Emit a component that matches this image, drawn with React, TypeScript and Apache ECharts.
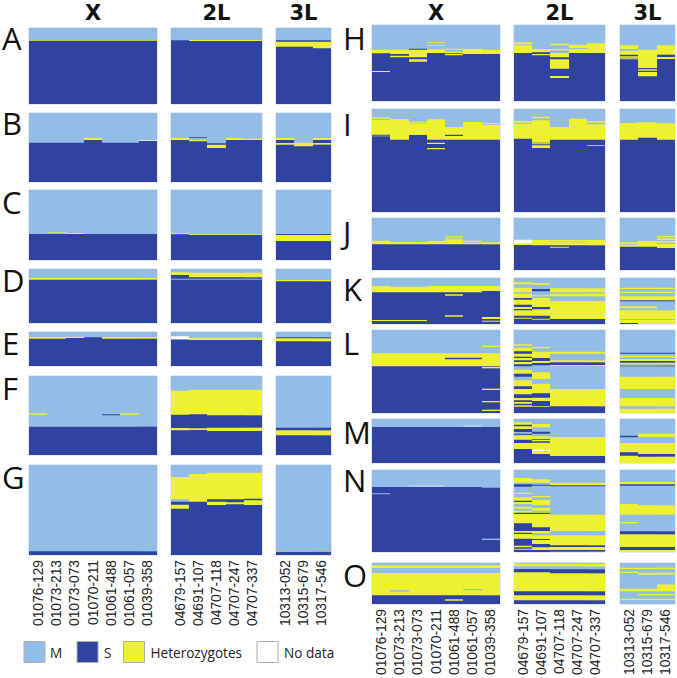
import React, { useEffect, useRef } from "react";
import * as echarts from "echarts";

// Sample ids per chromosome arm
const samplesX = ["01076-129", "01073-213", "01073-073", "01070-211", "01061-488", "01061-057", "01039-358"];
const samples2L = ["04679-157", "04691-107", "04707-118", "04707-247", "04707-337"];
const samples3L = ["10313-052", "10315-679", "10317-546"];
const armNames = ["X", "2L", "3L"];

// Genotype runs along the arm, one string per sample: state + end of the run (last run goes to the end)
const rowA = {
  X: ["M36 H38 S", "M36 H38 S", "M36 H38 S", "M36 H38 S", "M36 H38 S", "M36 H38 S", "M36 H38 S"],
  L2: ["M37 S", "M36 H39 S", "M36 H39 S", "M36 H39 S", "M36 H39 S"],
  L3: ["M37 S41 H56 S", "M37 S41 H56 S", "M37 S41 H61 S"],
};
const rowB = {
  X: ["M89 S", "M89 S", "M89 S", "M75 H81 S", "M89 S", "M89 S", "M82 W84 S"],
  L2: ["M75 H81 S", "M73 S75 M81 H85 S", "M91 S95 H105 S", "M75 H81 S", "M77 H81 S"],
  L3: ["M75 H81 S90 H95 S", "M89 H100 S", "M75 H81 S90 H95 S"],
};
const rowC = {
  X: ["M132 S", "M127 H129 M132 S", "M129 H132 S", "M132 S", "M132 S", "M132 S", "M132 S"],
  L2: ["M130 H132 M133 S", "M133 H135 S", "M133 H135 S", "M133 H135 S", "M133 H135 S"],
  L3: ["M132 S135 H153 S", "M132 S135 H153 S", "M132 S135 H153 S"],
};
const rowD = {
  X: ["M27 H32 S", "M27 H32 S", "M27 H32 S", "M27 H32 S", "M27 H32 S", "M27 H32 S", "M27 H32 S"],
  L2: ["M10 H18 S29 M32 S", "M11 H25 S29 M32 S", "M11 H25 S29 M32 S", "M11 H25 S29 M32 S", "M11 H25 S29 M32 S"],
  L3: ["M33 H37 S", "M33 H37 S", "M33 H37 S"],
};
const rowE = {
  X: ["M15 H20 S", "M15 H20 S", "M14 H18 S", "M16 S", "M15 H20 S", "M15 H20 S", "M15 H20 S"],
  L2: ["M13 W21 M23 S", "M17 H24 S", "M17 H24 S", "M17 H24 S", "M17 H24 S"],
  L3: ["M16 S19 H28 S", "M16 S19 H28 S", "M16 S19 H28 S"],
};
const rowF = {
  X: ["M112 H116 M152 S", "M152 S", "M152 S", "M152 S", "M115 S118 M152 S", "M112 H116 M152 S", "M152 S"],
  L2: ["M44 H116 S156 H163 S", "M41 H115 S157 H162 S", "M41 H118 S155 H165 S", "M41 H118 S155 H165 S", "M41 H118 S155 H165 S"],
  L3: ["M155 S163 H178 S", "M155 S163 H178 S", "M155 S163 H178 S"],
};
const rowG = {
  X: ["M259 S", "M259 S", "M259 S", "M259 S", "M259 S", "M259 S", "M259 S"],
  L2: ["M36 H103 M110 S119 H131 S", "M27 H110 S", "M23 H103 S110 H120 S", "M23 H103 S112 H118 S", "M23 H101 S106 H120 S"],
  L3: ["M258 H260 S", "M258 H260 S", "M258 H260 S"],
};
const rowH = {
  X: ["M74 H85 S138 H141 S", "M74 H87 S92 H97 S", "M71 S74 H97 S103 H110 S", "M52 H55 M60 H62 M73 H84 S", "M71 H74 M80 H85 S87 H91 S", "M72 H87 S", "M74 H87 S"],
  L2: ["M52 H58 M61 H84 S", "M72 H82 S87 H91 S", "M56 H61 M72 H76 M84 H97 S103 H131 S153 H159 S", "M59 H69 M72 H84 S", "M55 H84 S"],
  L3: ["M61 H72 M77 H89 S94 H98 S100 H103 S", "M74 H129 S133 H137 S141 H154 S", "M61 H89 S96 H102 S"],
};
const rowI = {
  X: ["M25 H29 M33 H77 S80 H82 S", "M30 H92 S", "M38 H43 M44 H78 S", "M31 H92 S101 H105 S117 H121 S", "M54 H77 S81 H92 S", "M39 H92 S", "M42 H45 M47 H92 S"],
  L2: ["M36 H41 M44 H89 S", "M23 H28 M34 H101 S103 H106 S109 H117 S", "M54 H92 S", "M29 H92 S", "M36 H41 M46 H92 S109 H111 S"],
  L3: ["M42 H92 S", "M40 H86 S", "M43 H92 S"],
};
const rowJ = {
  X: ["M68 H79 S", "M72 H79 S", "M72 H79 S", "M69 H79 S", "M55 H58 M59 H61 M62 H65 M66 H79 S", "M68 H72 M74 H79 S", "M73 H79 S"],
  L2: ["M65 W76 H81 S", "M66 H82 S", "M66 H71 M73 H82 S86 H89 S", "M66 H71 M73 H82 S", "M66 H82 S"],
  L3: ["M73 H78 M80 H86 S", "M69 H86 S", "M54 H58 M61 H66 M69 H74 M77 H90 S"],
};
const rowK = {
  X: ["M24 H43 S126 H129 S", "M26 H43 S126 H129 S", "M26 H43 S126 H129 S", "M24 H43 S", "M24 H43 S49 H53 S112 H116 S", "M24 H43 S", "M24 H39 S117 H123 S128 H131 S"],
  L2: [
    "M13 H19 M29 H43 M47 H60 S65 H80 S87 H93 S97 H113 S119 H122 S",
    "M15 H20 M33 S40 M52 H55 M60 H87 S94 H113 S122 H125 S",
    "M31 H43 M47 H55 M69 H123 S",
    "M31 H43 M47 H55 M69 H123 S",
    "M31 H43 M47 H55 M69 H123 S",
  ],
  L3: ["M29 H33 M41 H45 M55 H67 S70 M85 H91 M97 H123 M126 H135 S", "M29 H33 M41 H45 M55 H67 S70 M85 H91 M97 H123 M126 H", "M29 H33 M41 H45 M55 H67 S70 M97 H123 M126 H"],
};
const rowL = {
  X: ["M70 H109 S", "M70 H109 S", "M70 H109 S", "M70 H109 S", "M70 H83 S88 H109 S", "M70 H83 S88 H109 S", "M47 H51 M70 H109 S111 H115 S176 H180 S213 H217 S239 H243 S"],
  L2: [
    "M43 H47 M53 H64 S71 H80 S84 H91 S96 H103 S109 M119 H131 S140 M151 H169 S177 H193 S204 H211 S216 H221 S226 H230 S",
    "M51 H55 M65 H84 S93 H99 S106 M127 H147 M161 H190 S203 H213 S229 H231 S",
    "M65 H71 M91 H97 S105 H108 M177 H229 S",
    "M65 H71 M91 H97 S105 H108 M177 H229 S",
    "M65 H71 M91 H97 S105 H108 M177 H229 S",
  ],
  L3: [
    "M68 S71 M77 H82 M87 H93 S98 H103 M107 S109 M140 H177 M204 H229 M236 H",
    "M68 S71 M77 H82 M87 H93 S98 H103 M107 S109 M140 H177 M204 H229 M236 H",
    "M68 S71 M77 H82 M87 H93 S98 H103 M107 S109 M140 H177 M204 H229 M236 H",
  ],
};
const rowM = {
  X: ["M24 S", "M24 S", "M24 S", "M24 S", "M24 S", "M20 W22 M24 S", "M24 S"],
  L2: [
    "M10 H17 S22 H30 S39 M44 S47 M50 H62 S72 H90 S",
    "M15 H25 M38 S44 M52 H60 S62 H67 S71 H92 W96 H105 S",
    "M54 H111 S",
    "M54 H111 S",
    "M54 H111 S",
  ],
  L3: ["M50 S55 M72 H100 S110 H", "M44 H54 M72 H105 S113 H", "M44 H54 M72 H105 S113 H"],
};
const rowN = {
  X: ["M51 S70 M73 S", "M51 S", "M47 W49 M51 S", "M47 W49 M51 S", "M51 S", "M51 S", "M53 S206 M210 S"],
  L2: [
    "M24 H38 M43 S50 M68 H72 M82 H92 S96 H102 M110 H116 M122 H128 S132 H160 S183 H188 S192 H206 S227 H232 S236 H239 S",
    "M28 H38 M44 S47 M78 H82 M90 H105 M114 H122 M125 H128 S132 H172 S183 H190 M196 H207 S210 H222 S232 H240 S",
    "M38 H46 S49 M134 H183 M196 H226 S231 H240 S245 H",
    "M38 H46 S49 M134 H183 M196 H226 S231 H240 S245 H",
    "M38 H46 S49 M134 H183 M196 H226 S231 H240 S245 H",
  ],
  L3: ["M36 H43 S47 M102 H134 M156 H160 M184 S193 H231 S240 H", "M36 H43 S47 M106 H134 M184 S193 H231 S240 H", "M36 H43 S47 M106 H134 M184 S193 H231 S240 H"],
};
const rowO = {
  X: ["M7 H15 M30 H97 S", "M7 H15 M30 H82 M86 H97 S", "M7 H15 M30 H97 S", "M7 H15 M30 H97 S", "M7 H15 M30 H97 S109 H113 S", "M7 H15 M30 H78 M82 H97 S", "M7 H15 M30 H97 S"],
  L2: ["M3 H10 M18 S28 H85 S97 H112 S", "M3 H10 M18 S28 H85 S97 H112 S", "M3 H10 M19 S31 H85 S97 H112 S", "M3 H10 M19 S31 H85 S97 H112 S", "M3 H10 M19 S31 H85 S97 H112 S"],
  L3: ["M14 H18 M26 H30 M77 H85 M107 H111 M", "M14 H18 M29 H35 M77 H85 M93 H97 M107 H111 M", "M14 H18 M29 H35 M64 H85 M93 H97 M107 H111 M"],
};

const stateColors: Record<string, string> = { M: "#93BCE6", S: "#3143A0", H: "#EEF032", W: "#FFFFFF" };
const legendItems = [
  { name: "M", color: stateColors.M },
  { name: "S", color: stateColors.S },
  { name: "Heterozygotes", color: stateColors.H },
  { name: "No data", color: stateColors.W },
];

// Layout, in whole page pixels so that stacked marks leave no seams
const leftCols = [[29, 128], [171, 91], [276, 55]];
const rightCols = [[372, 128], [514, 91], [620, 55]];
const rowLayout: any[] = [
  ["A", rowA, leftCols, 28, 76, 38],
  ["B", rowB, leftCols, 113, 69, 123],
  ["C", rowC, leftCols, 190, 70, 202],
  ["D", rowD, leftCols, 269, 54, 280],
  ["E", rowE, leftCols, 332, 34, 343],
  ["F", rowF, leftCols, 376, 79, 388],
  ["G", rowG, leftCols, 465, 90, 477],
  ["H", rowH, rightCols, 25, 76, 38],
  ["I", rowI, rightCols, 109, 103, 124],
  ["J", rowJ, rightCols, 218, 52, 232],
  ["K", rowK, rightCols, 278, 46, 289],
  ["L", rowL, rightCols, 330, 83, 343],
  ["M", rowM, rightCols, 419, 44, 432],
  ["N", rowN, rightCols, 470, 82, 480],
  ["O", rowO, rightCols, 563, 41, 575],
];

function buildOption() {
  const grid: any[] = [];
  const xAxis: any[] = [];
  const yAxis: any[] = [];
  const series: any[] = [];
  const graphic: any[] = [];

  rowLayout.forEach(([letter, row, cols, top, height, letterY]) => {
    const lists = [row.X, row.L2, row.L3];
    const names = [samplesX, samples2L, samples3L];
    const labelled = letter === "G" || letter === "O";
    lists.forEach((columns: string[], a: number) => {
      const idx = grid.length;
      const yMax = height * 3;
      grid.push({
        left: cols[a][0],
        top,
        width: cols[a][1],
        height,
        show: true,
        borderColor: "#C4D6EE",
        borderWidth: 1,
        backgroundColor: "transparent",
      });
      xAxis.push({
        gridIndex: idx,
        type: "category",
        data: names[a],
        axisLine: { show: false },
        axisTick: { show: false },
        splitLine: { show: false },
        axisLabel: {
          show: labelled,
          interval: 0,
          rotate: 90,
          margin: 5,
          color: "#222",
          fontFamily: "Liberation Sans",
          fontSize: 13.8,
        },
      });
      yAxis.push({ gridIndex: idx, type: "value", inverse: true, min: 0, max: yMax, show: false, splitLine: { show: false } });
      const data: any[] = [];
      columns.forEach((col, c) => {
        let start = 0;
        col.split(" ").forEach((run) => {
          const state = run[0];
          const end = run.length > 1 ? parseFloat(run.slice(1)) : yMax;
          data.push([c, start, state]);
          start = end;
        });
      });
      series.push({
        type: "custom",
        xAxisIndex: idx,
        yAxisIndex: idx,
        clip: false,
        silent: true,
        encode: { x: 0, y: 1 },
        data,
        dimensions: ["col", "start", { name: "state", type: "ordinal" }],
        renderItem: (params: any, api: any) => {
          const c = api.value(0);
          const y0 = api.value(1);
          const state = data[params.dataIndex][2];
          const band = api.size([1, 0])[0];
          const p = api.coord([c, y0]);
          const sys = params.coordSys;
          // whole-pixel column edges keep neighbouring columns free of seams
          const x = c === 0 ? sys.x : Math.round(p[0] - band / 2);
          return {
            type: "rect",
            shape: { x, y: p[1], width: sys.x + sys.width - x, height: sys.y + sys.height - p[1] },
            style: { fill: stateColors[state] },
          };
        },
      });
      if (letter === "A" || letter === "H") {
        graphic.push({
          type: "text",
          x: cols[a][0] + cols[a][1] / 2,
          y: 13,
          style: {
            text: armNames[a],
            font: "bold 21px 'DejaVu Sans'",
            fill: "#111",
            textAlign: "center",
            textVerticalAlign: "middle",
          },
        });
      }
    });
    graphic.push({
      type: "text",
      x: cols === leftCols ? 2 : 343,
      y: letterY,
      style: { text: letter, font: "31px 'Open Sans'", fill: "#111", textVerticalAlign: "middle" },
    });
  });

  const legendX = [24, 77, 123.5, 257];
  const legendTextX = [50, 104, 150.5, 284];
  legendItems.forEach((it, i) => {
    graphic.push({
      type: "rect",
      shape: { x: legendX[i], y: 641.5, width: 21, height: 21 },
      style: { fill: it.color, stroke: "#AEAEAE", lineWidth: 1 },
    });
    graphic.push({
      type: "text",
      x: legendTextX[i],
      y: 652.5,
      style: { text: it.name, font: "13.6px 'Open Sans'", fill: "#222", textVerticalAlign: "middle" },
    });
  });

  return { animation: false, backgroundColor: "#fff", grid, xAxis, yAxis, series, graphic };
}

export default function App() {
  const ref = useRef<HTMLDivElement>(null);
  useEffect(() => {
    const chart = echarts.init(ref.current!, undefined, { renderer: "svg" });
    chart.setOption(buildOption() as any);
    return () => chart.dispose();
  }, []);
  return <div ref={ref} style={{ position: "fixed", left: 0, top: 0, width: 677, height: 678 }} />;
}
